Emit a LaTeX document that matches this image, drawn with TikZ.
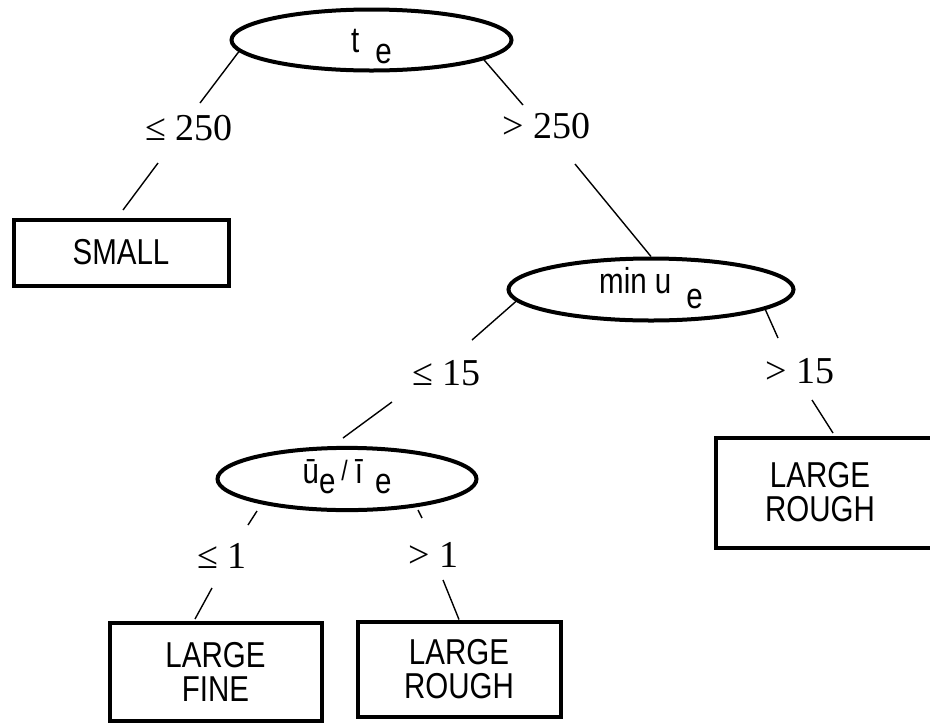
\documentclass[tikz,border=0pt]{standalone}
\usepackage{fontspec}
\setmainfont{Liberation Serif}
\newfontfamily\cond[FakeStretch=0.82]{Liberation Sans}
\usetikzlibrary{shapes.geometric,calc}
\begin{document}
\begin{tikzpicture}[x=1pt,y=-1pt,
  oval/.style={ellipse,draw,line width=4pt,inner sep=0pt,font=\cond\fontsize{36}{36}\selectfont},
  leaf/.style={rectangle,draw,line width=4pt,inner sep=0pt,align=center,font=\cond\fontsize{36}{34}\selectfont},
  lab/.style={inner sep=0pt,anchor=base west,font=\fontsize{38}{38}\selectfont},
  conn/.style={line width=1.4pt}]
\useasboundingbox (0,0) rectangle (930,724);
\clip (0,0) rectangle (930,724);
\fill[white] (0,0) rectangle (930,724);

% decision ellipses
\node[oval,minimum width=280pt,minimum height=61pt,text height=30pt,text depth=6pt] (te) at (371.5,40) {t\hspace{16pt}\raisebox{-11pt}{e}};
\node[oval,minimum width=285pt,minimum height=62pt,text height=25pt,text depth=18pt] (minu) at (651,289.5) {min u\hspace{15pt}\raisebox{-15pt}{e}};
\node[oval,minimum width=259pt,minimum height=59pt,text height=26pt,text depth=18pt] (ur) at (347,479) {ū\raisebox{-10pt}{e}\hspace{6pt}\raisebox{3pt}{\fontsize{28}{28}\selectfont /}\hspace{7pt}ī\hspace{12pt}\raisebox{-10pt}{e}};

% leaves
\node[leaf,minimum width=215pt,minimum height=66pt] (small) at (121,252.5) {SMALL};
\node[leaf,draw=none,minimum width=204pt,minimum height=106pt] (rr) at (820,492.5) {LARGE\\ROUGH};
\draw[line width=4pt] ($(rr.north west)+(230,0)$) -- (rr.north west) -- (rr.south west) -- ($(rr.south west)+(230,0)$);
\node[leaf,minimum width=212pt,minimum height=98pt] (fine) at (215.5,671.5) {LARGE\\FINE};
\node[leaf,minimum width=203pt,minimum height=95pt] (rough) at (459,669) {LARGE\\ROUGH};

% connector break points
\coordinate (g1a) at (200,103); \coordinate (g1b) at (158,163); \coordinate (g1c) at (123,210);
\coordinate (g2a) at (523,105); \coordinate (g2b) at (575,164);
\coordinate (g3a) at (472,340); \coordinate (g3b) at (392,402); \coordinate (g3c) at (343,438);
\coordinate (g4a) at (778,338); \coordinate (g4b) at (812,400); \coordinate (g4c) at (833,433);
\coordinate (g5s) at (257,511); \coordinate (g5a) at (248,525); \coordinate (g5b) at (212,588); \coordinate (g5c) at (195,619);
\coordinate (g6s) at (418,510); \coordinate (g6a) at (422,518); \coordinate (g6b) at (443,580);

% connectors
\draw[conn] (te.185) -- (g1a);  \draw[conn] (g1b) -- (g1c);
\draw[conn] (te.350) -- (g2a);  \draw[conn] (g2b) -- (minu.north);
\draw[conn] (minu.185) -- (g3a); \draw[conn] (g3b) -- (g3c);
\draw[conn] (minu.350) -- (g4a); \draw[conn] (g4b) -- (g4c);
\draw[conn] (g5s) -- (g5a); \draw[conn] (g5b) -- (g5c);
\draw[conn] (g6s) -- (g6a); \draw[conn] (g6b) -- (rough.north);

% branch labels
\node[lab] (l1) at (145,140) {≤ 250};
\node[lab] (l2) at (502,138) {> 250};
\node[lab] (l3) at (412,385) {≤ 15};
\node[lab] (l4) at (765,383) {> 15};
\node[lab] (l5) at (197,568) {≤ 1};
\node[lab] (l6) at (408,567) {> 1};
\end{tikzpicture}
\end{document}
